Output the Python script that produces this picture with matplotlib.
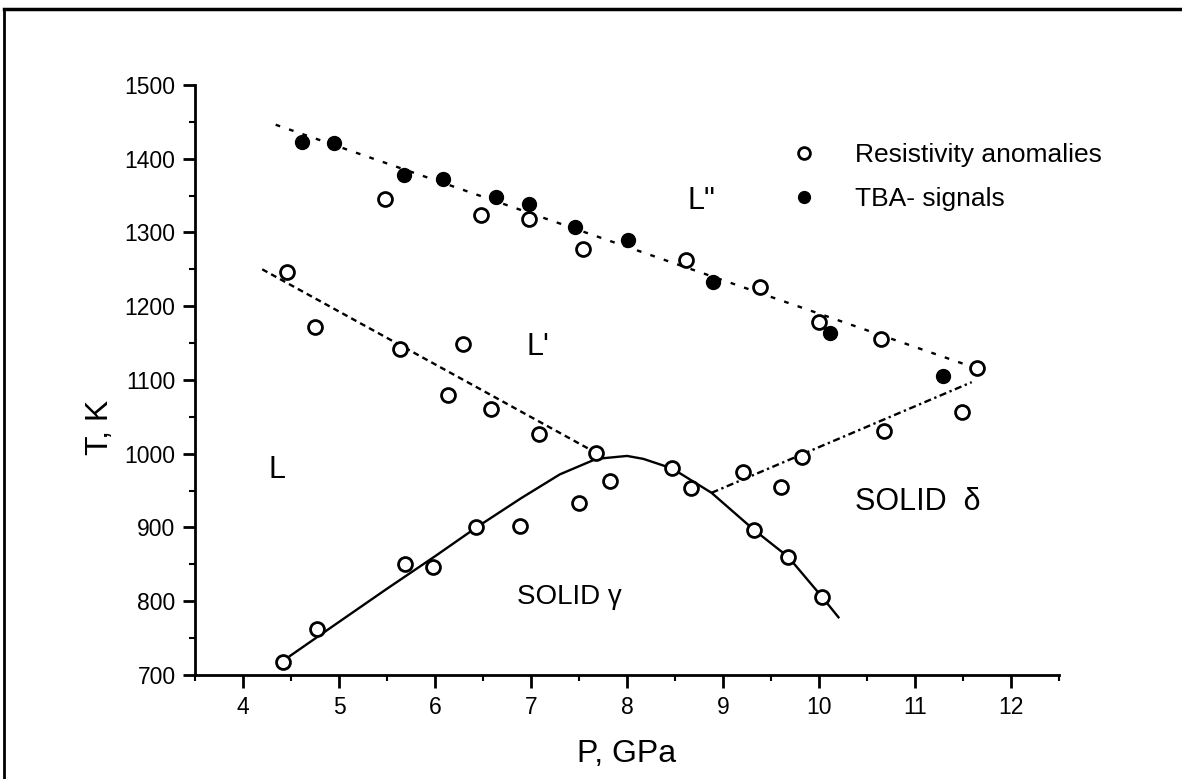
import matplotlib
matplotlib.use("Agg")
import matplotlib.pyplot as plt
from matplotlib.lines import Line2D
from matplotlib.ticker import MultipleLocator

plt.rcParams['font.family'] = ['Liberation Sans', 'DejaVu Sans']

# Resistivity anomalies (open circles)
res_p = [4.46, 4.75, 5.48, 5.63, 6.29, 6.14, 6.48, 6.58, 6.98, 7.08, 7.54, 8.61,
         9.39, 10.0, 10.65, 11.64, 11.49, 10.68, 9.82, 9.21, 9.60, 8.47, 8.67,
         7.68, 7.82, 7.50, 9.32, 9.68, 10.03, 4.42, 4.77, 5.69, 5.98, 6.43, 6.89]
res_t = [1246, 1172, 1346, 1142, 1149, 1080, 1323, 1061, 1318, 1027, 1277, 1262,
         1226, 1178, 1155, 1116, 1056, 1031, 996, 975, 955, 980, 954,
         1001, 963, 933, 897, 860, 806, 718, 762, 851, 846, 900, 902]

# TBA signals (filled circles)
tba_p = [4.61, 4.95, 5.68, 6.08, 6.64, 6.98, 7.46, 8.01, 8.90, 10.11, 11.29]
tba_t = [1423, 1421, 1378, 1372, 1348, 1339, 1308, 1290, 1233, 1163, 1106]

# phase boundaries
gamma_p = [4.48, 5.0, 5.5, 6.0, 6.43, 6.9, 7.3, 7.68, 8.0, 8.17, 8.47, 8.88,
           9.32, 9.68, 10.03, 10.21]
gamma_t = [725, 772, 817, 861, 900, 940, 972, 993, 997, 993, 980, 947,
           897, 860, 806, 777]
lpp_p = [4.34, 11.59]
lpp_t = [1446, 1118]
lp_p = [4.2, 7.68]
lp_t = [1250, 1001]
delta_p = [8.88, 11.59]
delta_t = [947, 1097]

fig = plt.figure(figsize=(11.82, 7.79), dpi=100)
ax = fig.add_axes([0.165, 0.1335, 0.731, 0.7575])

lw = 1.7
ax.plot(gamma_p, gamma_t, color='black', lw=lw, solid_capstyle='butt')
ax.plot(lpp_p, lpp_t, color='black', lw=lw, linestyle=(0, (2, 4)))
ax.plot(lp_p, lp_t, color='black', lw=lw, linestyle=(0, (2.5, 1.8)))
ax.plot(delta_p, delta_t, color='black', lw=lw, linestyle=(0, (3, 1.5, 1, 1.5)))

ax.plot(res_p, res_t, 'o', ms=10, mfc='white', mec='black', mew=2, ls='none',
        label='Resistivity anomalies')
ax.plot(tba_p, tba_t, 'o', ms=10, mfc='black', mec='black', ls='none',
        label='TBA- signals')

# region labels
ax.text(8.77, 1342, 'L"', fontsize=22, ha='center', va='center')
ax.text(7.07, 1145, "L'", fontsize=22, ha='center', va='center')
ax.text(4.35, 978, 'L', fontsize=22, ha='center', va='center')
ax.text(11.03, 935, 'SOLID  δ', fontsize=22, ha='center', va='center')
ax.text(7.40, 806, 'SOLID γ', fontsize=20, ha='center', va='center')

ax.legend(loc='upper left', bbox_to_anchor=(0.69, 0.902), frameon=False,
          fontsize=19, numpoints=1, handlelength=1.0, handletextpad=1.4,
          labelspacing=0.76, borderpad=0, borderaxespad=0, markerscale=0.85)

ax.set_xlim(3.5, 12.5)
ax.set_ylim(700, 1500)
ax.xaxis.set_major_locator(MultipleLocator(1))
ax.xaxis.set_minor_locator(MultipleLocator(0.5))
ax.yaxis.set_major_locator(MultipleLocator(100))
ax.yaxis.set_minor_locator(MultipleLocator(50))

for s in ['top', 'right']:
    ax.spines[s].set_visible(False)
for s in ['left', 'bottom']:
    ax.spines[s].set_linewidth(2)

ax.tick_params(axis='both', which='major', length=9, width=2, labelsize=16.5,
               direction='out')
ax.tick_params(axis='both', which='minor', length=4, width=1.5, direction='out')
ax.tick_params(axis='x', which='major', pad=6)
ax.tick_params(axis='y', which='major', pad=5)

ax.set_xlabel('P, GPa', fontsize=23)
ax.set_ylabel('T, K', fontsize=23)
ax.xaxis.set_label_coords(0.5, -0.108)
ax.yaxis.set_label_coords(-0.093, 0.42)

# scanned page frame (top and left edges)
fig.add_artist(Line2D([0.003, 1.0], [0.989, 0.989], color='black', lw=2.5,
                      transform=fig.transFigure))
fig.add_artist(Line2D([0.003, 0.003], [0.0, 0.989], color='black', lw=2,
                      transform=fig.transFigure))

fig.savefig('out.png', dpi=100)
